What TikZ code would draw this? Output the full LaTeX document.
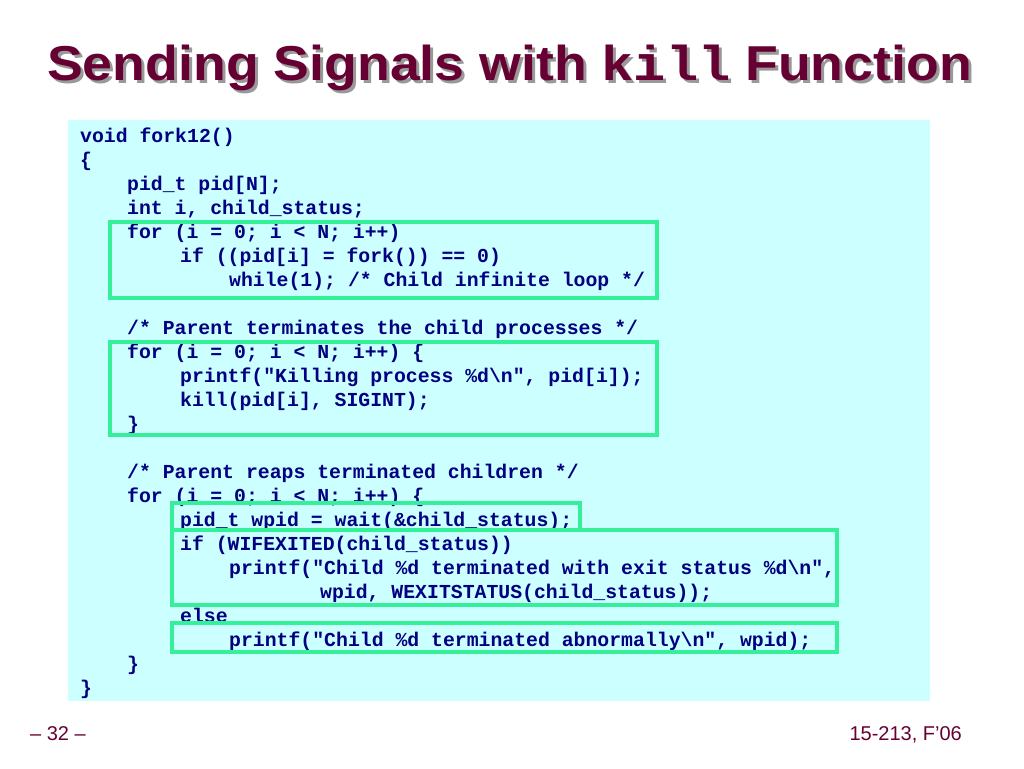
\documentclass[tikz,border=0pt]{standalone}
\usepackage{fontspec}
\setmainfont{Liberation Sans}
\newfontfamily\codefont{Liberation Mono}

\definecolor{titlered}{RGB}{102,0,51}
\definecolor{codeblue}{RGB}{0,0,128}
\definecolor{codebg}{RGB}{204,255,255}
\definecolor{hlgreen}{RGB}{51,240,153}

\newcommand{\slidetitle}{\scalebox{1.095}[1]{Sending Signals with {\codefont kill} Function}}

\begin{document}
\begin{tikzpicture}[x=1pt, y=-1pt,
  code/.style={anchor=base west, inner sep=0pt, text=codeblue, font=\codefont\bfseries\fontsize{19.8}{24}\selectfont},
  hl/.style={draw=hlgreen, line width=4.5pt},
  title/.style={anchor=base west, inner sep=0pt, font=\bfseries\fontsize{49}{52}\selectfont},
  foot/.style={anchor=base, inner sep=0pt, text=titlered, font=\fontsize{20}{22}\selectfont}]
  \useasboundingbox (0,0) rectangle (1024,768);
  \fill[white] (0,0) rectangle (1024,768);

  % title with its shadow
  \node[title, text=black!40] (titleshadow) at (50,83) {\slidetitle};
  \node[title, text=titlered] (title) at (47,80) {\slidetitle};

  % code
  \fill[codebg] (68,120) rectangle (930,701);
  \node[code] (fork) at (80,142) {void fork12()};
  \node[code] (lbrace) at (80,166) {\{};
  \node[code] (pidarr) at (127,190) {pid\_t pid[N];};
  \node[code] (decl) at (127,214) {int i, child\_status;};
  \node[code] (forA) at (127,238) {for (i = 0; i < N; i++)};
  \node[code] (ifA) at (180,262) {if ((pid[i] = fork()) == 0)};
  \node[code] (whileA) at (229,286) {while(1); /* Child infinite loop */};
  \node[code] (cmtB) at (127,334) {/* Parent terminates the child processes */};
  \node[code] (forB) at (127,358) {for (i = 0; i < N; i++) \{};
  \node[code] (printB) at (180,382) {printf("Killing process \%d\textbackslash n", pid[i]);};
  \node[code] (killB) at (180,406) {kill(pid[i], SIGINT);};
  \node[code] (rbB) at (127,430) {\}};
  \node[code] (cmtC) at (127,478) {/* Parent reaps terminated children */};
  \node[code] (forC) at (127,502) {for (i = 0; i < N; i++) \{};
  \node[code] (waitC) at (180,526) {pid\_t wpid = wait(\&child\_status);};
  \node[code] (ifC) at (180,550) {if (WIFEXITED(child\_status))};
  \node[code] (printC) at (229,574) {printf("Child \%d terminated with exit status \%d\textbackslash n",};
  \node[code] (argsC) at (320,598) {wpid, WEXITSTATUS(child\_status));};
  \node[code] (elseC) at (180,622) {else};
  \node[code] (abnC) at (229,646) {printf("Child \%d terminated abnormally\textbackslash n", wpid);};
  \node[code] (rbC) at (127,670) {\}};
  \node[code] (rbfn) at (80,694) {\}};

  % highlights
  \draw[hl] (110,222) rectangle (657,298);
  \draw[hl] (110,342) rectangle (657,435);
  \draw[hl] (172,503) rectangle (580,530);
  \draw[hl] (172,530) rectangle (837,605);
  \draw[hl] (172,623) rectangle (837,652);

  % footer
  \node[foot] (page) at (58,740) {-- 32 --};
  \node[foot, anchor=base east] (course) at (962,740) {15-213, F'06};
\end{tikzpicture}
\end{document}
